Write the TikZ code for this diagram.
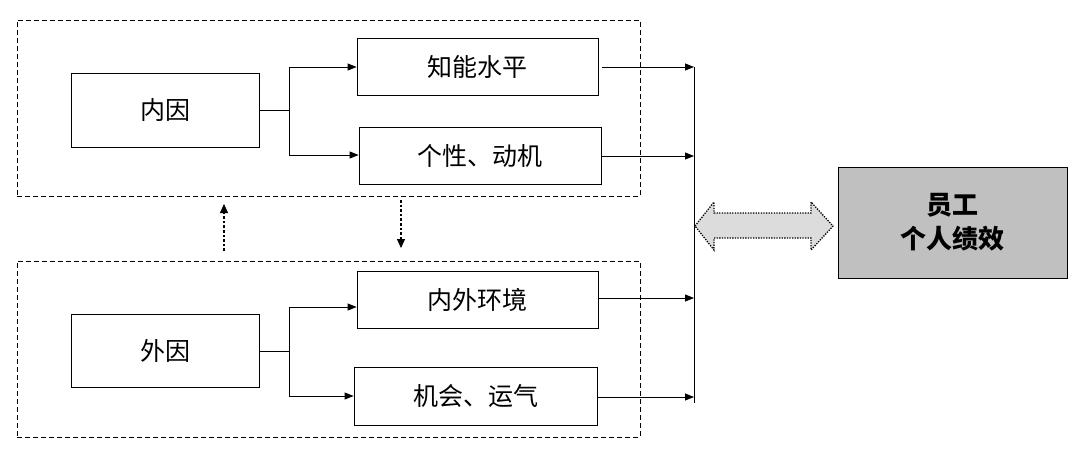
\documentclass[tikz,border=0pt]{standalone}
\usepackage{fontspec}
\setmainfont{Noto Sans CJK SC}
\usetikzlibrary{arrows.meta}
\begin{document}
\begin{tikzpicture}[x=1pt,y=-1pt,
  box/.style={draw,line width=0.8pt,minimum width=#1,inner sep=0pt,font=\fontsize{25}{30}\selectfont},
  grp/.style={draw,dash pattern=on 5pt off 3pt,line width=0.6pt},
  con/.style={line width=0.8pt},
  arr/.style={con,-{Triangle[length=9pt,width=7pt]}},
  dotshaft/.style={line width=2.6pt,dash pattern=on 2.6pt off 2pt},
  dothead/.style={line width=0.8pt,-{Triangle[length=9pt,width=8pt]}}]
\useasboundingbox (0,0) rectangle (1076,456);
% groups
\node[grp,minimum width=623pt,minimum height=176pt,inner sep=0pt] (g1) at (328.5,108) {};
\node[grp,minimum width=623pt,minimum height=176pt,inner sep=0pt] (g2) at (328.5,349) {};
% boxes
\node[box=188pt,minimum height=74pt] (ny) at (165,110) {内因};
\node[box=241pt,minimum height=57pt] (zn) at (477.5,66.5) {知能水平};
\node[box=242pt,minimum height=57pt] (gx) at (480,155.5) {个性、动机};
\node[box=188pt,minimum height=73pt] (wy) at (165,350.5) {外因};
\node[box=241pt,minimum height=57pt] (nw) at (477.5,299.5) {内外环境};
\node[box=243pt,minimum height=58pt] (jh) at (475.5,396) {机会、运气};
\node[draw,line width=0.8pt,fill={rgb,255:red,192;green,192;blue,192},minimum width=229pt,minimum height=111pt,inner sep=0pt,align=center,font=\fontsize{26}{34}\selectfont\bfseries] (yg) at (952.5,222.5) {员工\\个人绩效};
% left connectors
\coordinate (j1) at (289,110);
\draw[con] (ny.east) -- (j1);
\draw[con] (289,67) -- (289,155);
\draw[arr] (289,67) -- (zn.west |- 0,67);
\draw[arr] (289,155) -- (gx.west |- 0,155);
\coordinate (j2) at (289,351);
\draw[con] (wy.east |- j2) -- (j2);
\draw[con] (289,307) -- (289,396);
\draw[arr] (289,307) -- (nw.west |- 0,307);
\draw[arr] (289,396) -- (jh.west |- 0,396);
% right connectors
\coordinate (bt) at (694,67);
\coordinate (bb) at (694,403);
\draw[con] (bt) -- (bb);
\draw[arr] (602,67) -- (694,67);
\draw[arr] (602,156) -- (694,156);
\draw[arr] (599,298) -- (694,298);
\draw[arr] (598,397) -- (694,397);
% dotted arrows
\coordinate (u1) at (224,251);
\coordinate (u2) at (224,204);
\coordinate (d1) at (401,200);
\coordinate (d2) at (401,248);
\draw[dotshaft] (u1) -- (224,212);
\draw[dothead] (224,214) -- (u2);
\draw[dotshaft] (d1) -- (401,239);
\draw[dothead] (401,238) -- (d2);
% double arrow
\draw[line width=1.3pt,dash pattern=on 1.3pt off 1.3pt,fill={rgb,255:red,220;green,220;blue,220}]
  (695,226) -- (714,202) -- (714,213) -- (811,213) -- (811,202) -- (833,226)
  -- (811,250) -- (811,238) -- (714,238) -- (714,250) -- cycle;
\end{tikzpicture}
\end{document}
